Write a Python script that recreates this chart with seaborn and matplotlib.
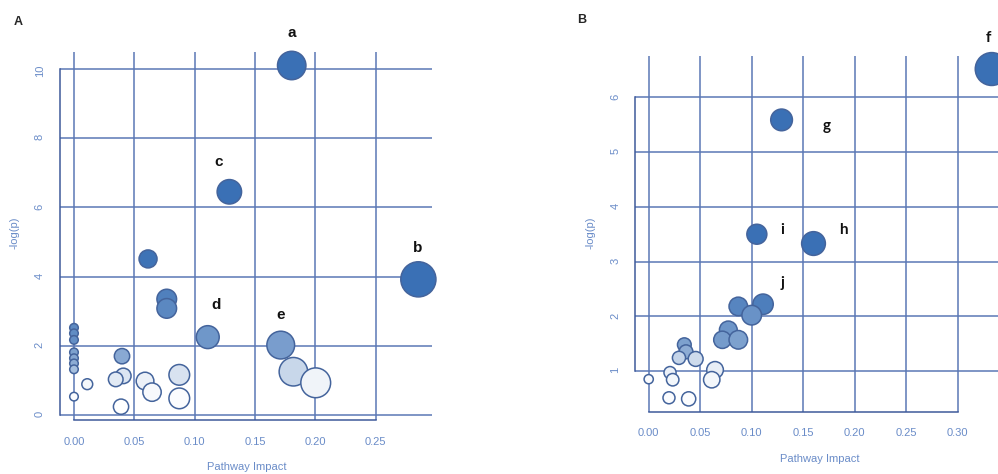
import numpy as np
import pandas as pd
import matplotlib
matplotlib.use('Agg')
import matplotlib.pyplot as plt
import seaborn as sns
from matplotlib.colors import LinearSegmentedColormap

sns.set_style('white')
plt.rcParams['font.family'] = ['Liberation Sans', 'DejaVu Sans']

# panel A values
a_impact = [0.1805, 0.2855, 0.1288, 0.1109, 0.1714, 0.0614, 0.0769, 0.0769, 0.1819, 0.2004,
            0.0398, 0.0409, 0.0346, 0.0589, 0.0647, 0.0873, 0.0873, 0.039, 0.011, 0.0,
            0.0, 0.0, 0.0, 0.0, 0.0, 0.0, 0.0]
a_logp = [10.1, 3.92, 6.45, 2.25, 2.02, 4.51, 3.35, 3.08, 1.25, 0.93,
          1.7, 1.13, 1.03, 0.98, 0.66, 1.16, 0.48, 0.24, 0.89, 0.53,
          2.52, 2.36, 2.17, 1.81, 1.64, 1.49, 1.32]
# colour shade of each circle (0 = white, 1 = full blue)
a_shade = [1.0, 1.0, 1.0, 0.73, 0.68, 0.98, 0.89, 0.83, 0.28, 0.08,
           0.6, 0.18, 0.15, 0.1, 0.04, 0.2, 0.02, 0.0, 0.06, 0.02,
           0.82, 0.8, 0.78, 0.66, 0.62, 0.58, 0.45]
a_labels = ['a', 'b', 'c', 'd', 'e']
a_lab_x = [0.1805, 0.285, 0.120, 0.1177, 0.1716]
a_lab_y = [11.04, 4.83, 7.31, 3.18, 2.89]

# panel B values
b_impact = [0.333, 0.129, 0.105, 0.160, 0.087, 0.111, 0.100, 0.0773, 0.0715, 0.087,
            0.0346, 0.0362, 0.0294, 0.0456, 0.0644, 0.0612, 0.0207, 0.0233, 0.0, 0.0197, 0.0388]
b_logp = [6.52, 5.59, 3.50, 3.33, 2.18, 2.22, 2.02, 1.75, 1.57, 1.57,
          1.48, 1.35, 1.24, 1.22, 1.02, 0.84, 0.97, 0.84, 0.85, 0.51, 0.49]
b_shade = [1.0, 1.0, 1.0, 1.0, 0.85, 0.9, 0.76, 0.74, 0.7, 0.66,
           0.66, 0.58, 0.3, 0.25, 0.12, 0.06, 0.1, 0.06, 0.03, 0.02, 0.02]
b_labels = ['f', 'g', 'i', 'h', 'j']
b_lab_x = [0.330, 0.1728, 0.1297, 0.189, 0.1297]
b_lab_y = [7.09, 5.48, 3.58, 3.58, 2.61]

a_xticks = [0.00, 0.05, 0.10, 0.15, 0.20, 0.25]
a_yticks = [0, 2, 4, 6, 8, 10]
b_xticks = [0.00, 0.05, 0.10, 0.15, 0.20, 0.25, 0.30]
b_yticks = [1, 2, 3, 4, 5, 6]

W, H = 998, 474
grid_c = '#5b78b5'
axis_c = '#3e5a9a'
tick_c = '#6a8cc8'
cmap = LinearSegmentedColormap.from_list('wb', ['#ffffff', '#3a70b5'])

fig = plt.figure(figsize=(W / 100, H / 100), dpi=100)


def panel(rect, impact, logp, shade, xticks, yticks, xlim, ylim, sizes, labels, lx, ly,
          lab_font, xpad, ypad, xlab_pos, ylab_pos):
    l, r, t, b = rect
    ax = fig.add_axes([l / W, 1 - b / H, (r - l) / W, (b - t) / H])
    df = pd.DataFrame({'impact': impact, 'logp': logp, 'shade': shade})
    sns.scatterplot(data=df, x='impact', y='logp', hue='shade', size='impact',
                    palette=cmap, hue_norm=(0, 1), sizes=sizes,
                    size_norm=(0, max(impact)), edgecolor='#44649c', linewidth=1.1,
                    legend=False, ax=ax, zorder=3, clip_on=False)
    ax.set_xlim(*xlim)
    ax.set_ylim(*ylim)
    ax.set_xticks(xticks)
    ax.set_yticks(yticks)
    ax.set_xticklabels(['%.2f' % v for v in xticks])
    ax.set_yticklabels([str(v) for v in yticks])
    ax.grid(True, color=grid_c, linewidth=1.1, zorder=0)
    ax.set_axisbelow(True)
    for s in ['top', 'right']:
        ax.spines[s].set_visible(False)
    for s in ['left', 'bottom']:
        ax.spines[s].set_color(axis_c)
        ax.spines[s].set_linewidth(1.1)
    ax.spines['bottom'].set_bounds(xticks[0], xticks[-1])
    ax.spines['left'].set_bounds(yticks[0], yticks[-1])
    ax.tick_params(axis='both', direction='out', length=5, width=1.1, color=grid_c,
                   labelcolor=tick_c, labelsize=8)
    ax.tick_params(axis='x', pad=xpad)
    ax.tick_params(axis='y', pad=ypad, labelrotation=90)
    ax.set_xlabel('Pathway Impact', color=tick_c, fontsize=8)
    ax.set_ylabel('-log(p)', color=tick_c, fontsize=8)
    ax.xaxis.set_label_coords(*xlab_pos)
    ax.yaxis.set_label_coords(*ylab_pos)
    for t_, x_, y_ in zip(labels, lx, ly):
        ax.text(x_, y_, t_, ha='center', va='center', fontsize=11, fontweight='bold',
                family=lab_font, color='#111111', clip_on=False)
    return ax


panel((60, 432, 52, 420), a_impact, a_logp, a_shade, a_xticks, a_yticks,
      (-0.0116, 0.2968), (-0.145, 10.49), (38, 640),
      a_labels, a_lab_x, a_lab_y, ['Liberation Sans', 'DejaVu Sans'], 7.5, 6,
      (0.503, -0.114), (-0.109, 0.508))

panel((635, 1005.4, 55.9, 412), b_impact, b_logp, b_shade, b_xticks, b_yticks,
      (-0.0133, 0.3463), (0.25, 6.76), (44, 560),
      b_labels, b_lab_x, b_lab_y, ['Lato', 'DejaVu Sans'], 6.5, 5.5,
      (0.4995, -0.118), (-0.1066, 0.503))

fig.text(18 / W, 1 - 22 / H, 'A', fontsize=9, fontweight='bold', ha='center', va='center')
fig.text(582 / W, 1 - 20 / H, 'B', fontsize=9, fontweight='bold', ha='center', va='center')

fig.savefig('out.png', dpi=100)
